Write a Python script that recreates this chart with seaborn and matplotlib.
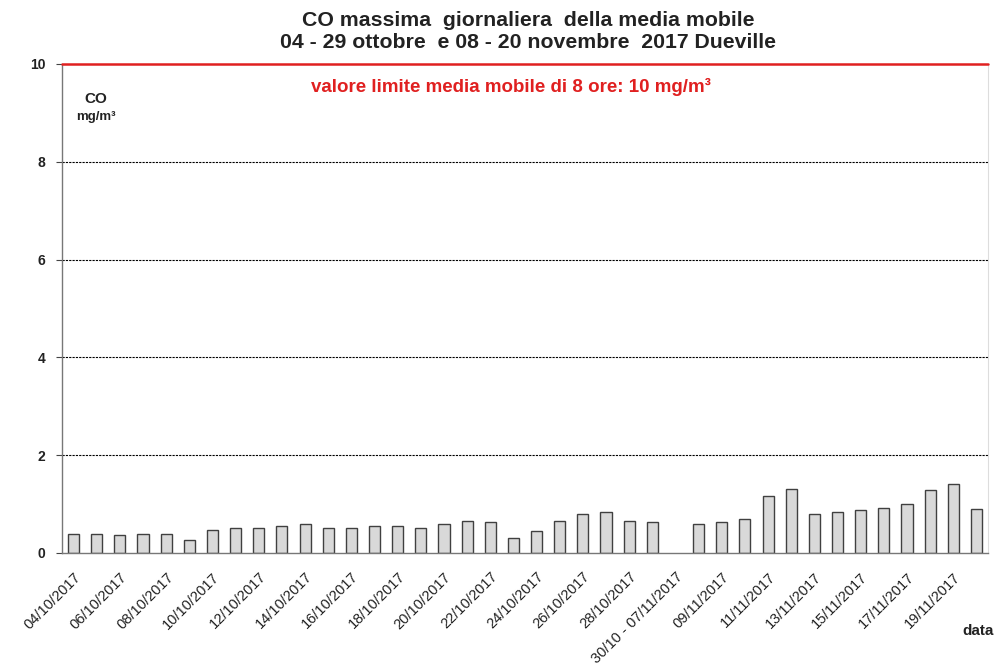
import numpy as np
import pandas as pd
import matplotlib
matplotlib.use("Agg")
import matplotlib.pyplot as plt
import seaborn as sns

# -------------------- DATA --------------------
days_oct = [f"{d:02d}/10/2017" for d in range(4, 30)]
gap_label = "30/10 - 07/11/2017"
days_nov = [f"{d:02d}/11/2017" for d in range(8, 21)]
categories = days_oct + [gap_label] + days_nov

co_oct = [0.38, 0.39, 0.36, 0.38, 0.38, 0.27, 0.48, 0.51, 0.51, 0.55, 0.59, 0.51, 0.51,
          0.55, 0.55, 0.51, 0.59, 0.65, 0.63, 0.31, 0.44, 0.65, 0.80, 0.83, 0.65, 0.63]
co_nov = [0.59, 0.64, 0.70, 1.17, 1.30, 0.80, 0.83, 0.88, 0.92, 1.00, 1.29, 1.42, 0.91]
co_values = co_oct + [np.nan] + co_nov
limit = 10
# ----------------------------------------------

df = pd.DataFrame({"data": categories, "co": co_values})

sns.set_style("white")
plt.rcParams['font.family'] = ['Liberation Sans', 'DejaVu Sans']

fig = plt.figure(figsize=(9.97, 6.67), dpi=100)
ax = fig.add_axes([62 / 997, 1 - 553 / 667, (988 - 62) / 997, (553 - 64) / 667])

sns.barplot(data=df, x="data", y="co", order=categories, color="#d9d9d9",
            edgecolor="#404040", linewidth=1.0, width=0.48, saturation=1, ax=ax)

ax.set_ylim(0, 10)
ax.set_xlim(-0.5, len(categories) - 0.5)
ax.set_yticks(range(0, 11, 2))
ax.set_yticklabels([str(v) for v in range(0, 11, 2)], fontsize=10, fontweight="bold",
                   color="#222222")
for yv in [2, 4, 6, 8]:
    ax.axhline(yv, color="black", linestyle=(0, (2, 1)), linewidth=0.8, zorder=0)
ax.axhline(limit, color="#e02020", linewidth=1.8, zorder=3, clip_on=False)

# ticks: labels every 2 categories, tick marks at category boundaries
ax.set_xticks(range(0, len(categories), 2))
ax.set_xticklabels(categories[::2], rotation=45, ha="right", rotation_mode="anchor",
                   fontsize=10.5, color="#222222")
ax.set_xticks(np.arange(-0.5, len(categories), 1), minor=True)
ax.tick_params(axis="x", which="major", length=0, pad=12)
ax.tick_params(axis="x", which="minor", length=4, color="#444444", direction="out")
ax.tick_params(axis="y", length=4, left=True, color="#444444", direction="out", pad=8)
ax.set_xlabel("")
ax.set_ylabel("")

for side in ["left", "bottom"]:
    ax.spines[side].set_color("#777777")
    ax.spines[side].set_linewidth(1)
ax.spines["top"].set_visible(False)
ax.spines["right"].set_color("#dddddd")

fig.text(528 / 997, 1 - 20 / 667, "CO massima  giornaliera  della media mobile",
         ha="center", va="center", fontsize=15.3, fontweight="bold", color="#222222")
fig.text(528 / 997, 1 - 43 / 667, "04 - 29 ottobre  e 08 - 20 novembre  2017 Dueville",
         ha="center", va="center", fontsize=15.3, fontweight="bold", color="#222222")
fig.text(511 / 997, 1 - 87 / 667, "valore limite media mobile di 8 ore: 10 mg/m³",
         ha="center", va="center", fontsize=13.5, fontweight="bold", color="#e02020")
fig.text(96 / 997, 1 - 99 / 667, "CO", ha="center", va="center", fontsize=11,
         fontweight="bold", color="#222222")
fig.text(96 / 997, 1 - 117 / 667, "mg/m³", ha="center", va="center", fontsize=9.5,
         fontweight="bold", color="#222222")
fig.text(978 / 997, 1 - 631 / 667, "data", ha="center", va="center", fontsize=11,
         fontweight="bold", color="#222222")

fig.savefig("out.png", dpi=100)
